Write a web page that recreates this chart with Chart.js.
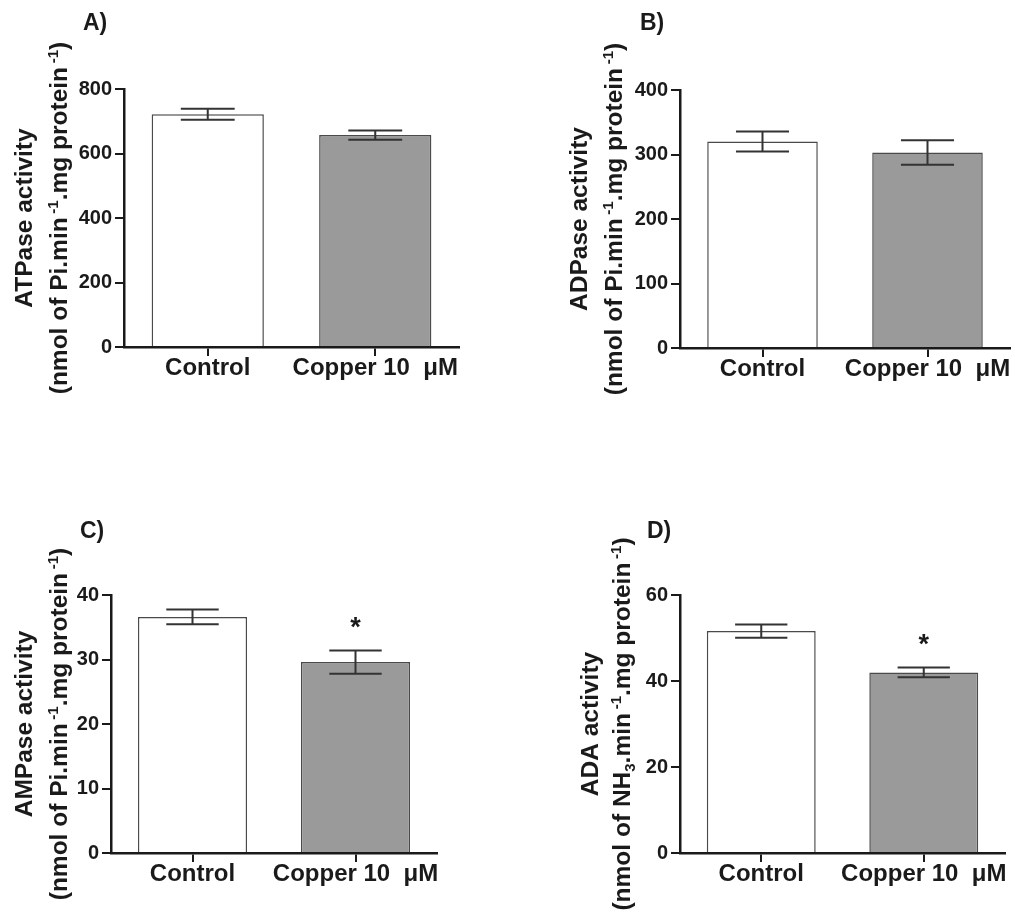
<!DOCTYPE html>
<html>
<head>
<meta charset="utf-8">
<script src="https://cdn.jsdelivr.net/npm/chart.js@4.4.0/dist/chart.umd.min.js"></script>
<style>
  body { margin: 0; background: #fff; }
  #wrap { position: relative; width: 1015px; height: 913px; }
  .panel { position: absolute; }
</style>
</head>
<body>
<div id="wrap">
  <canvas class="panel" id="chartA" width="500" height="450" style="left:0;top:0"></canvas>
  <canvas class="panel" id="chartB" width="515" height="450" style="left:500px;top:0"></canvas>
  <canvas class="panel" id="chartC" width="500" height="463" style="left:0;top:450px"></canvas>
  <canvas class="panel" id="chartD" width="515" height="463" style="left:500px;top:450px"></canvas>
</div>
<script>
// Data (mean and SEM per group)
const categories = ['Control', 'Copper 10  \u03BCM'];
const atpaseMeans = [722, 657];
const atpaseErrors = [17, 14];
const adpaseMeans = [320, 303];
const adpaseErrors = [15.5, 19];
const ampaseMeans = [36.6, 29.6];
const ampaseErrors = [1.15, 1.8];
const adaMeans = [51.6, 42.0];
const adaErrors = [1.55, 1.15];
const ampaseStars = [false, true];
const adaStars = [false, true];

const FONT = '"Liberation Sans", Arial, sans-serif';
const INK = '#1a1a1a';
const barFills = ['#ffffff', '#9a9a9a'];
const barBorders = ['#4a4a4a', '#4a4a4a'];

// error bars + significance stars, drawn through the y scale
const errorBars = {
  id: 'errorBars',
  afterDatasetsDraw(chart, args, opts) {
    const ctx = chart.ctx;
    const y = chart.scales.y;
    const meta = chart.getDatasetMeta(0);
    const values = chart.data.datasets[0].data;
    ctx.save();
    ctx.strokeStyle = '#333';
    ctx.lineWidth = 2;
    meta.data.forEach((bar, i) => {
      const top = y.getPixelForValue(values[i] + opts.errors[i]);
      const bot = y.getPixelForValue(values[i] - opts.errors[i]);
      const half = bar.width * 0.24;
      ctx.beginPath();
      ctx.moveTo(bar.x, top); ctx.lineTo(bar.x, bot);
      ctx.moveTo(bar.x - half, top); ctx.lineTo(bar.x + half, top);
      ctx.moveTo(bar.x - half, bot); ctx.lineTo(bar.x + half, bot);
      ctx.stroke();
      if (opts.stars && opts.stars[i]) {
        ctx.fillStyle = INK;
        ctx.font = 'bold 27px ' + FONT;
        ctx.textAlign = 'center';
        ctx.textBaseline = 'middle';
        ctx.fillText('*', bar.x, top - 22);
      }
    });
    ctx.restore();
  }
};

// rotated axis title line with super/subscripts
function drawRotated(ctx, segs, cx, cy, size) {
  const fontFor = kind => 'bold ' + (kind ? Math.round(size * 0.6) : size) + 'px ' + FONT;
  const gapFor = kind => (kind === 'sup' ? size * 0.15 : 0);
  let total = 0;
  segs.forEach(([t, kind]) => { ctx.font = fontFor(kind); total += ctx.measureText(t).width + gapFor(kind); });
  ctx.save();
  ctx.translate(cx, cy);
  ctx.rotate(-Math.PI / 2);
  ctx.textAlign = 'left';
  ctx.textBaseline = 'alphabetic';
  let x = -total / 2;
  const base = size * 0.36;
  segs.forEach(([t, kind]) => {
    ctx.font = fontFor(kind);
    x += gapFor(kind);
    const dy = kind === 'sup' ? -size * 0.38 : kind === 'sub' ? size * 0.2 : 0;
    ctx.fillText(t, x, base + dy);
    x += ctx.measureText(t).width;
  });
  ctx.restore();
}

const panelText = {
  id: 'panelText',
  afterDraw(chart, args, opts) {
    const ctx = chart.ctx;
    const area = chart.chartArea;
    ctx.save();
    ctx.fillStyle = INK;
    ctx.font = 'bold 23px ' + FONT;
    ctx.textAlign = 'left';
    ctx.textBaseline = 'alphabetic';
    ctx.fillText(opts.label, opts.labelX, opts.labelY);
    const cy = (area.top + area.bottom) / 2;
    opts.lines.forEach((segs, k) => drawRotated(ctx, segs, opts.lineX[k], cy, 24.5));
    ctx.restore();
  }
};

const piUnit = [['(nmol of Pi.min'], ['-1', 'sup'], ['.mg protein'], ['-1', 'sup'], [')']];
const nh3Unit = [['(nmol of NH'], ['3', 'sub'], ['.min'], ['-1', 'sup'], ['.mg protein'], ['-1', 'sup'], [')']];

function makePanel(id, means, errors, stars, yMax, yStep, cfg) {
  new Chart(document.getElementById(id), {
    type: 'bar',
    data: {
      labels: categories,
      datasets: [{
        data: means,
        backgroundColor: barFills,
        borderColor: barBorders,
        borderWidth: 1.5,
        barPercentage: 0.67,
        categoryPercentage: 1
      }]
    },
    options: {
      responsive: false,
      animation: false,
      devicePixelRatio: 1,
      layout: { padding: cfg.padding },
      plugins: {
        legend: { display: false },
        tooltip: { enabled: false },
        errorBars: { errors: errors, stars: stars },
        panelText: { label: cfg.label, labelX: cfg.labelX, labelY: cfg.labelY, lines: cfg.lines, lineX: cfg.lineX }
      },
      scales: {
        x: {
          grid: { offset: false, drawOnChartArea: false, tickLength: 9, lineWidth: 2, color: INK },
          border: { color: INK, width: 2.5 },
          ticks: {
            font: { family: FONT, size: 24, weight: 'bold', lineHeight: 1.05 }, color: INK, padding: 0,
            autoSkip: false, maxRotation: 0, minRotation: 0
          },
          afterFit: s => { s.height = 50; }
        },
        y: {
          min: 0,
          max: yMax,
          grid: { drawOnChartArea: false, tickLength: 9, lineWidth: 2, color: INK },
          border: { color: INK, width: 2.5 },
          ticks: { stepSize: yStep, font: { family: FONT, size: 20, weight: 'bold' }, color: INK, padding: 3 },
          afterFit: s => { s.width = cfg.axisWidth; }
        }
      }
    },
    plugins: [errorBars, panelText]
  });
}

makePanel('chartA', atpaseMeans, atpaseErrors, null, 800, 200, {
  axisWidth: 124, padding: { left: 0, top: 89, right: 41, bottom: 53 },
  label: 'A)', labelX: 83, labelY: 30,
  lines: [[['ATPase activity']], piUnit], lineX: [23, 58]
});
makePanel('chartB', adpaseMeans, adpaseErrors, null, 400, 100, {
  axisWidth: 180, padding: { left: 0, top: 90, right: 5, bottom: 52 },
  label: 'B)', labelX: 140, labelY: 30,
  lines: [[['ADPase activity']], piUnit], lineX: [78, 113]
});
makePanel('chartC', ampaseMeans, ampaseErrors, ampaseStars, 40, 10, {
  axisWidth: 111, padding: { left: 0, top: 145, right: 63, bottom: 10 },
  label: 'C)', labelX: 80, labelY: 88,
  lines: [[['AMPase activity']], piUnit], lineX: [23, 58]
});
makePanel('chartD', adaMeans, adaErrors, adaStars, 60, 20, {
  axisWidth: 180, padding: { left: 0, top: 145, right: 10, bottom: 10 },
  label: 'D)', labelX: 147, labelY: 88,
  lines: [[['ADA activity']], nh3Unit], lineX: [89, 121]
});
</script>
</body>
</html>
